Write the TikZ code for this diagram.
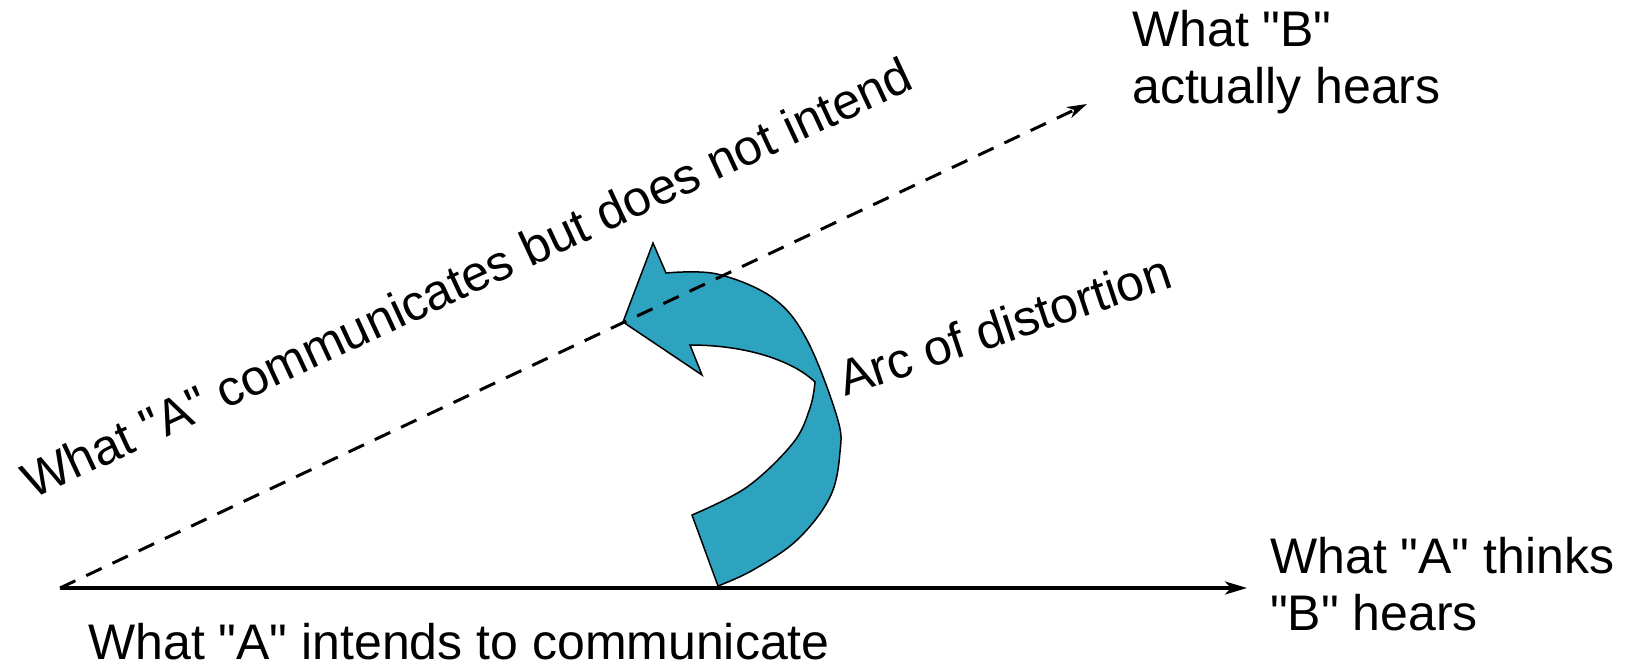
\documentclass[tikz,border=0pt]{standalone}
\usepackage{fontspec}
\setmainfont{Liberation Sans}
\usetikzlibrary{arrows.meta}
\definecolor{arcblue}{RGB}{45,163,192}
\newcommand{\dq}{\textquotedbl}
\begin{document}
\begin{tikzpicture}[x=1pt,y=-1pt,
  lbl/.style={inner sep=0pt, font=\fontsize{50}{57}\selectfont, align=left},
  solidaxis/.style={line width=3.5pt, -{Stealth[length=22pt,width=13pt,inset=6pt]}},
  dashaxis/.style={line width=3pt, dash pattern=on 17pt off 12pt,
    -{Stealth[length=20pt,width=12pt,inset=6pt]}},
  arcshape/.style={fill=arcblue, draw=black, line width=1.5pt, line join=miter}
]
\useasboundingbox (0,0) rectangle (1629,669);

% origin and the two directions
\coordinate (O) at (60,588);
\coordinate (H) at (1247,588);
\coordinate (D) at (1087,104);

% the curved arrow (arc of distortion)
\draw[arcshape] (653,243) -- (666,273)
  -- plot[smooth, tension=0.6] coordinates {(666,273) (717,274) (773,298) (807,340)
     (837,417) (840,452) (830,497) (797,540) (753,570) (718,586)}
  -- (692,515)
  -- plot[smooth, tension=0.6] coordinates {(692,515) (747,487) (793,443) (810,408) (815,382)}
  .. controls (792,360) and (745,345) .. (690,345)
  -- (702,375) -- (623,322) -- cycle;

% axes
\draw[solidaxis] (O) -- (H);
\draw[dashaxis] (O) -- (D);

% labels
\node[lbl, anchor=base west] (intends) at (88,659) {What \dq A\dq{} intends to communicate};
\node[lbl, anchor=base west] (thinks) at (1270,630) {What \dq A\dq{} thinks\\\dq B\dq{} hears};
\node[lbl, anchor=base west] (hears) at (1132,103) {What \dq B\dq\\actually hears};
\node[lbl, anchor=base west, rotate=25] (unintended) at (32,500)
  {What \dq A\dq{} communicates but does not intend};
\node[lbl, anchor=base west, rotate=18.5] (arclabel) at (845,397) {Arc of distortion};
\end{tikzpicture}
\end{document}
